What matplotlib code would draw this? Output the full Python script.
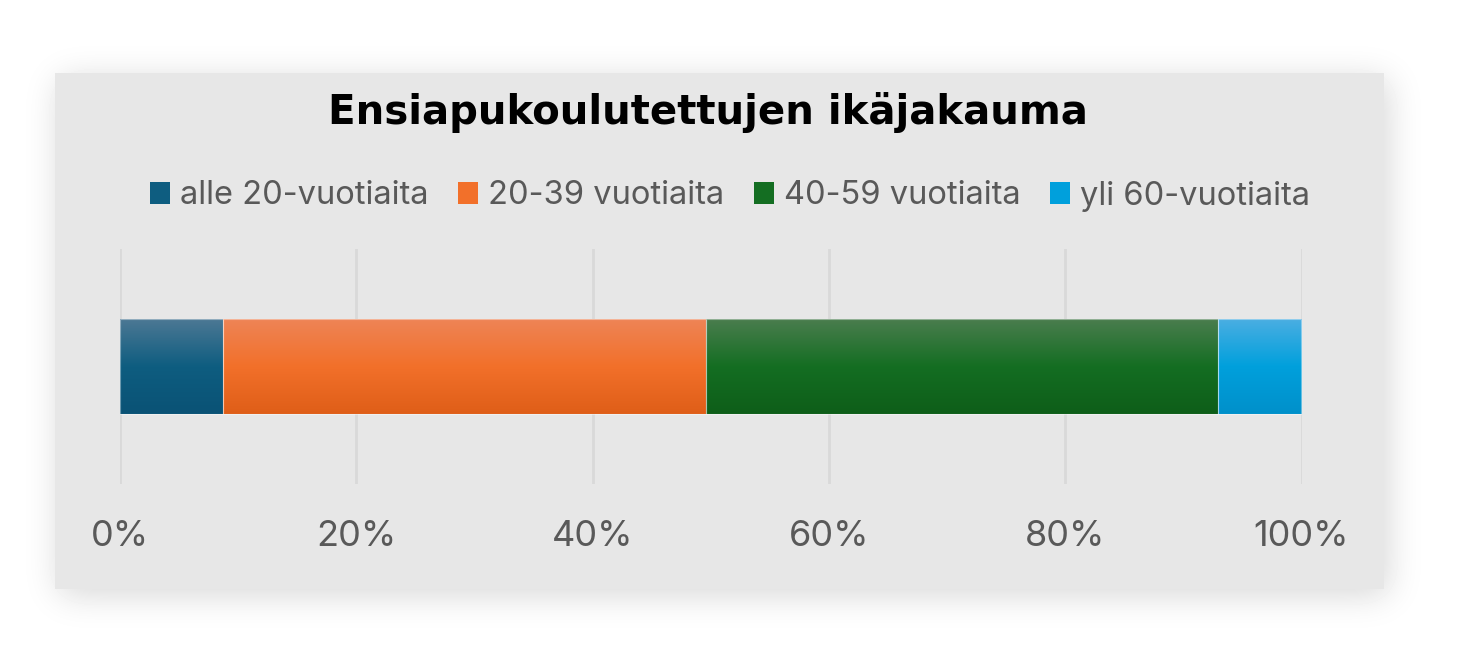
import math
import numpy as np
import matplotlib
matplotlib.use("Agg")
import matplotlib.pyplot as plt
from matplotlib.patches import Rectangle
from matplotlib.colors import LinearSegmentedColormap


# Data (share of trained people per age group, %)
categories = ["alle 20-vuotiaita", "20-39 vuotiaita", "40-59 vuotiaita", "yli 60-vuotiaita"]
shares = [8.7, 40.9, 43.3, 7.1]
tick_values = [0, 20, 40, 60, 80, 100]
tick_labels = ["0%", "20%", "40%", "60%", "80%", "100%"]
title = "Ensiapukoulutettujen ikäjakauma"

# gradient stops per series: top, middle, bottom
gradients = [
    ("#4C7894", "#0E5D80", "#0A5275"),
    ("#EE8456", "#F2702A", "#DF5E18"),
    ("#4A7D4E", "#146E22", "#0E5E19"),
    ("#4AAEE2", "#00A0DC", "#0090CA"),
]

W, H = 1471, 660
panel = (55, 73, 1384, 589)  # pixel box of the grey chart area
panel_color = "#E7E7E7"
text_color = "#595959"

fig = plt.figure(figsize=(W / 100, H / 100), dpi=100)
fig.patch.set_facecolor("white")

# soft drop shadow behind the panel
erf = np.vectorize(math.erf)
s = 24.0
xs = np.arange(W) + 0.5
ys = np.arange(H) + 0.5
x0, y0, x1, y1 = panel[0] + 4, panel[1] + 6, panel[2] + 4, panel[3] + 6
fx = 0.5 * (erf((xs - x0) / s) - erf((xs - x1) / s))
fy = 0.5 * (erf((ys - y0) / s) - erf((ys - y1) / s))
shadow = 1 - 0.16 * np.outer(fy, fx)

bg = fig.add_axes([0, 0, 1, 1], zorder=0)
bg.imshow(shadow, cmap="gray", vmin=0, vmax=1, extent=(0, W, H, 0), aspect="auto",
          interpolation="bilinear")
bg.add_patch(Rectangle((panel[0], panel[1]), panel[2] - panel[0], panel[3] - panel[1],
                       facecolor=panel_color, edgecolor="none"))
bg.set_xlim(0, W)
bg.set_ylim(H, 0)
bg.axis("off")

# chart area
left, right, top, bottom = 120, 1301.5, 249, 484
ax = fig.add_axes([left / W, 1 - bottom / H, (right - left) / W, (bottom - top) / H], zorder=1)
ax.patch.set_alpha(0)

bar_h = 0.404
starts = np.concatenate([[0], np.cumsum(shares)[:-1]])
bars = []
for i, (cat, val, st) in enumerate(zip(categories, shares, starts)):
    b = ax.barh(0, val, left=st, height=bar_h, color=gradients[i][1],
                edgecolor="none", label=cat, zorder=3)
    bars.append(b)
    rect = b.patches[0]
    cmap = LinearSegmentedColormap.from_list("g%d" % i, list(gradients[i]))
    grad = np.linspace(0, 1, 256).reshape(-1, 1)
    # row 0 (light) goes to the top of the bar
    img = ax.imshow(grad, cmap=cmap, aspect="auto", zorder=3.5, origin="upper",
                    extent=(st, st + val, -bar_h / 2, bar_h / 2), interpolation="bilinear")
    img.set_clip_path(rect)
    # thin light outline like the reference
    ax.barh(0, val, left=st, height=bar_h, facecolor="none",
            edgecolor=(1, 1, 1, 0.4), linewidth=0.8, zorder=4)

ax.set_xlim(0, 100)
ax.set_ylim(-0.5, 0.5)
ax.set_xticks(tick_values)
ax.set_xticklabels(tick_labels)
ax.set_yticks([])
ax.grid(axis="x", color="#D9D9D9", linewidth=2, zorder=0)
ax.set_axisbelow(True)
for sp in ax.spines.values():
    sp.set_visible(False)
ax.tick_params(axis="x", length=0, pad=26, labelsize=26, labelcolor=text_color)
for lbl in ax.get_xticklabels():
    lbl.set_fontfamily("Inter")

# title
fig.text(708 / W, 1 - 124 / H, title, ha="center", va="baseline",
         fontsize=29, fontweight="bold", family="DejaVu Sans", color="black")

# legend
leg = ax.legend(handles=[b.patches[0] for b in bars], labels=categories,
                loc="center", bbox_to_anchor=(730 / W, 1 - 196 / H),
                bbox_transform=fig.transFigure, ncol=4, frameon=False,
                prop={"family": "Inter", "size": 23.5},
                handlelength=0.62, handleheight=0.62, handletextpad=0.3,
                columnspacing=0.9, labelcolor=text_color)

fig.savefig("out.png", dpi=100)
